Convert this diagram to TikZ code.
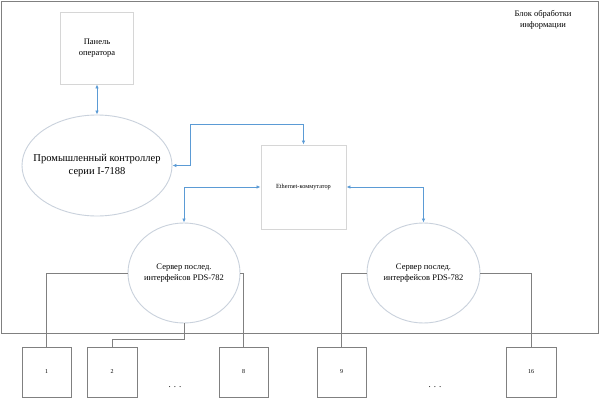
\documentclass[tikz,border=0pt]{standalone}
\usepackage{fontspec}
\setmainfont{Liberation Serif}
\usetikzlibrary{arrows.meta,shapes.geometric}
\definecolor{framegray}{HTML}{808080}
\definecolor{lightbox}{HTML}{D6D6D6}
\definecolor{ellgray}{HTML}{C9D1DC}
\definecolor{linkblue}{HTML}{5B9BD5}
\begin{document}
\begin{tikzpicture}[x=1pt,y=-1pt,
  lightrect/.style={draw=lightbox,line width=0.9pt,rectangle,inner sep=0pt},
  ellnode/.style={draw=ellgray,line width=0.9pt,ellipse,inner sep=0pt},
  portbox/.style={draw=framegray,line width=1pt,rectangle,inner sep=0pt,minimum width=49pt,minimum height=50pt,font=\fontsize{6}{7}\selectfont},
  wire/.style={draw=framegray,line width=1pt},
  link/.style={draw=linkblue,line width=0.9pt,{Latex[length=4pt,width=3.5pt]}-{Latex[length=4pt,width=3.5pt]}},
  txt/.style={align=center,inner sep=0pt,font=\fontsize{8.5}{11}\selectfont}]
\useasboundingbox (0,0) rectangle (600,404);
\fill[white] (0,0) rectangle (600,404);
% outer frame
\draw[framegray,line width=1pt] (1.5,1.5) rectangle (598.5,333);
\node[txt] (lbl) at (543,19.5) {Блок обработки\\информации};
% operator panel
\node[lightrect,minimum width=73pt,minimum height=72pt] (panel) at (97,48) {};
\node[txt] (paneltxt) at (panel.center) {Панель\\оператора};
% controller
\node[ellnode,minimum width=150pt,minimum height=101pt] (ctrl) at (97,165.5) {};
\node[txt,font=\fontsize{10.5}{12.5}\selectfont] (ctrltxt) at (ctrl.center) {Промышленный контроллер\\серии I-7188};
% switch
\node[lightrect,minimum width=85pt,minimum height=84pt] (sw) at (303.5,187) {};
\node[txt,font=\fontsize{6.3}{8}\selectfont] (swtxt) at (sw.center) {Ethernet-коммутатор};
% servers
\node[ellnode,minimum width=112pt,minimum height=100pt] (srv1) at (184,273) {};
\node[txt] (srv1txt) at (srv1.center) {Сервер послед.\\интерфейсов PDS-782};
\node[ellnode,minimum width=113pt,minimum height=100pt] (srv2) at (423.5,273) {};
\node[txt] (srv2txt) at (srv2.center) {Сервер послед.\\интерфейсов PDS-782};
% port boxes
\node[portbox] (b1) at (46.5,372) {1};
\node[portbox,minimum width=50pt] (b2) at (112,372) {2};
\node[portbox] (b8) at (243.5,372) {8};
\node[portbox] (b9) at (341.5,372) {9};
\node[portbox,minimum width=50pt] (b16) at (531,372) {16};
\node[txt,font=\fontsize{9}{10}\selectfont] (dots1) at (175,387) {. . .};
\node[txt,font=\fontsize{9}{10}\selectfont] (dots2) at (435,387) {. . .};
% blue links
\draw[link] (panel.south) -- (ctrl.north);
\coordinate (c1) at (190,124);
\draw[link] (ctrl.east) -| (c1) -| (sw.north);
\draw[link] (sw.west) -| (srv1.north);
\draw[link] (sw.east) -| (srv2.north);
% wires
\coordinate (c2) at (184,339);
\draw[wire] (srv1.west) -| (b1.north);
\draw[wire] (srv1.east) -| (b8.north);
\draw[wire] (srv1.south) -- (c2) -| (b2.north);
\draw[wire] (srv2.west) -| (b9.north);
\draw[wire] (srv2.east) -| (b16.north);
\end{tikzpicture}
\end{document}
